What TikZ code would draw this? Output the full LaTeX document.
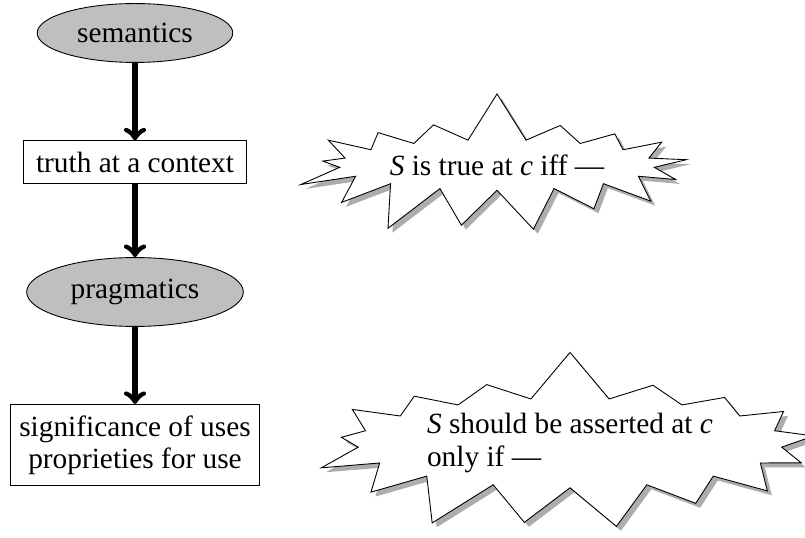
\documentclass[tikz,border=0pt]{standalone}
\usepackage{fontspec}
\setmainfont{Liberation Serif}
\usetikzlibrary{shapes,arrows,shadows}

\begin{document}
\begin{tikzpicture}[x=0.45pt,y=-0.45pt,
        every node/.style={font=\fontsize{13.2}{14.5}\selectfont},
        level/.style={ellipse,draw,fill=lightgray},
        stage/.style={rectangle,draw,align=center},
        burst/.style={starburst,draw,fill=white,random starburst=7,starburst point height=0.8cm,
            drop shadow={fill=black!32,opacity=1,shadow xshift=2pt,shadow yshift=-2pt}},
        flow/.style={->,>=to,line width=2.4pt}]
        \useasboundingbox (0,0) rectangle (805,538);
        % 左列：语义到语用
        \node[level,minimum width=88pt,minimum height=26.5pt] (sem) at (135,33) {semantics};
        \node[stage,minimum width=100pt,minimum height=19pt] (truth) at (135,162) {truth at a context};
        \node[level,minimum width=97.5pt,minimum height=31pt] (prag) at (135,292) {pragmatics};
        \node[stage,minimum width=112pt,minimum height=36.5pt] (use) at (135,445) {significance of uses\\proprieties for use};
        
        % 箭头
        \draw[flow] (sem) -- (truth);
        \draw[flow] (truth) -- (prag);
        \draw[flow] (prag) -- (use);
        
        % 右侧的爆炸框
        \node[burst,inner xsep=2pt] (iff) at (497,165) {\textit{S} is true at \textit{c} iff ---};
        \node[burst,align=left,inner ysep=1pt] (onlyif) at (570,443)
            {\textit{S} should be asserted at \textit{c}\\only if ---};
    \end{tikzpicture}
\end{document}
